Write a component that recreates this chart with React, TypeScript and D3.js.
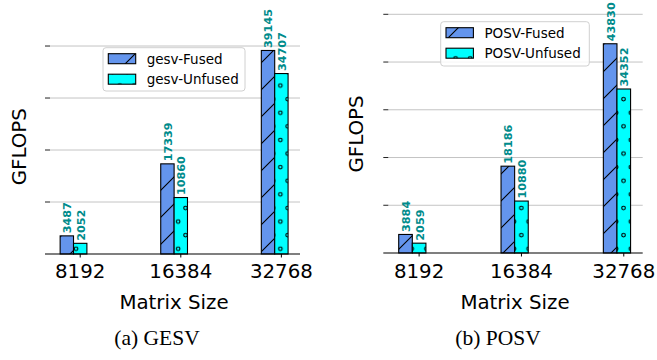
import React from 'react';
import * as d3 from 'd3';

// matrix sizes on the x axis
const categories = ['8192', '16384', '32768'];

// GFLOPS per size
const gesvFused = [3487, 17339, 39145];
const gesvUnfused = [2052, 10860, 34707];
const posvFused = [3884, 18186, 43830];
const posvUnfused = [2059, 10880, 34352];

const gesvNames = ['gesv-Fused', 'gesv-Unfused'];
const posvNames = ['POSV-Fused', 'POSV-Unfused'];

const gesvTicks = [0, 10000, 20000, 30000, 40000];
const posvTicks = [0, 10000, 20000, 30000, 40000, 50000];

const FUSED = '#6495ED';
const UNFUSED = '#00FFFF';
const LABEL = '#008B8B';
const SANS = 'DejaVu Sans, sans-serif';

type Layout = {
  left: number; right: number; top: number; bottom: number;
  yMax: number;
  legend: { x: number; y: number; w: number; h: number };
  ylabel: [number, number];
  xlabelX: number;
  caption: string;
  captionX: number;
};

const gesvLayout: Layout = {
  left: 45, right: 300, top: 40.3, bottom: 254,
  yMax: 39145 * 1.05,
  legend: { x: 103, y: 47.7, w: 142, h: 43.3 },
  ylabel: [26, 146.7],
  xlabelX: 174,
  caption: '(a) GESV',
  captionX: 157,
};

const posvLayout: Layout = {
  left: 383.3, right: 642.7, top: 14.3, bottom: 253,
  yMax: 50000,
  legend: { x: 440.7, y: 21.7, w: 148.6, h: 44.3 },
  ylabel: [363, 134],
  xlabelX: 515,
  caption: '(b) POSV',
  captionX: 498,
};

const Panel = ({ fused, unfused, names, ticks, lay }: {
  fused: number[]; unfused: number[]; names: string[]; ticks: number[]; lay: Layout;
}) => {
  const x = d3.scaleLinear().domain([-0.35, 2.185]).range([lay.left, lay.right]);
  const y = d3.scaleLinear().domain([0, lay.yMax]).range([lay.bottom, lay.top]);
  const w = 0.133;
  const bw = x(w) - x(0);

  const bars = [
    { vals: fused, off: -w, color: FUSED, hatch: 'url(#slash)' },
    { vals: unfused, off: 0, color: UNFUSED, hatch: 'url(#dots)' },
  ];

  const lg = lay.legend;
  return (
    <g>
      {ticks.slice(1).map(t => (
        <g key={t}>
          <line x1={lay.left + 5} x2={lay.right} y1={y(t)} y2={y(t)} stroke="#c4c4c4" strokeWidth={1} />
          <line x1={lay.left} x2={lay.left + 5} y1={y(t)} y2={y(t)} stroke="#222" strokeWidth={1} />
        </g>
      ))}

      {bars.map((s, si) =>
        s.vals.map((v, i) => {
          const bx = x(i + s.off) - bw / 2;
          const by = y(v);
          const h = lay.bottom - by;
          const cx = bx + bw / 2;
          return (
            <g key={si + '-' + i}>
              <rect x={bx} y={by} width={bw} height={h} fill={s.color} />
              <rect x={bx} y={by} width={bw} height={h} fill={s.hatch} />
              <rect x={bx} y={by} width={bw} height={h} fill="none" stroke="#000" strokeWidth={1.1} />
              <text
                transform={`translate(${cx + 4.4},${by - 2.5}) rotate(-90)`}
                fontFamily={SANS} fontWeight="bold" fontSize={11.2} fill={LABEL}
              >{v}</text>
            </g>
          );
        })
      )}

      <line x1={lay.left} x2={lay.right} y1={lay.bottom} y2={lay.bottom} stroke="#000" strokeWidth={1.2} />
      {categories.map((c, i) => (
        <g key={c}>
          <line x1={x(i)} x2={x(i)} y1={lay.bottom} y2={lay.bottom + 3.5} stroke="#000" strokeWidth={1} />
          <text x={x(i)} y={278} textAnchor="middle" fontFamily={SANS} fontSize={19.8} fill="#000">{c}</text>
        </g>
      ))}

      <text x={lay.xlabelX} y={309.3} textAnchor="middle" fontFamily={SANS} fontSize={19.8} fill="#000">Matrix Size</text>
      <text
        transform={`translate(${lay.ylabel[0]},${lay.ylabel[1]}) rotate(-90)`}
        textAnchor="middle" fontFamily={SANS} fontSize={19.8} fill="#000"
      >GFLOPS</text>

      <rect x={lg.x} y={lg.y} width={lg.w} height={lg.h} rx={3} fill="#fff" fillOpacity={0.85} stroke="#d0d0d0" strokeWidth={1} />
      {names.map((n, i) => {
        const cy = lg.y + 11 + i * 20.5;
        return (
          <g key={n}>
            <rect x={lg.x + 5.3} y={cy - 5} width={27.4} height={10} fill={bars[i].color} />
            <rect x={lg.x + 5.3} y={cy - 5} width={27.4} height={10} fill={bars[i].hatch} />
            <rect x={lg.x + 5.3} y={cy - 5} width={27.4} height={10} fill="none" stroke="#000" strokeWidth={1.1} />
            <text x={lg.x + 43.7} y={cy} dominantBaseline="central" fontFamily={SANS} fontSize={13.5} fill="#000">{n}</text>
          </g>
        );
      })}

      <text x={lay.captionX} y={345} textAnchor="middle" fontFamily="Liberation Serif, Times New Roman, serif" fontSize={21.5} fill="#000">{lay.caption}</text>
    </g>
  );
};

export default function App() {
  return (
    <div style={{ position: 'absolute', left: 0, top: 0 }}>
      <svg width={657} height={360} style={{ display: 'block', background: '#fff' }}>
        <defs>
          <pattern id="slash" patternUnits="userSpaceOnUse" width={27} height={27}>
            <path d="M0,27 L27,0 M-3,3 L3,-3 M24,30 L30,24" stroke="#000" strokeWidth={1.1} />
          </pattern>
          <pattern id="dots" patternUnits="userSpaceOnUse" width={14.6} height={27.2}>
            <circle cx={3} cy={4} r={1.8} fill="none" stroke="#000" strokeWidth={1.1} />
            <circle cx={10.3} cy={17.6} r={1.8} fill="none" stroke="#000" strokeWidth={1.1} />
          </pattern>
        </defs>
        <Panel fused={gesvFused} unfused={gesvUnfused} names={gesvNames} ticks={gesvTicks} lay={gesvLayout} />
        <Panel fused={posvFused} unfused={posvUnfused} names={posvNames} ticks={posvTicks} lay={posvLayout} />
      </svg>
    </div>
  );
}
